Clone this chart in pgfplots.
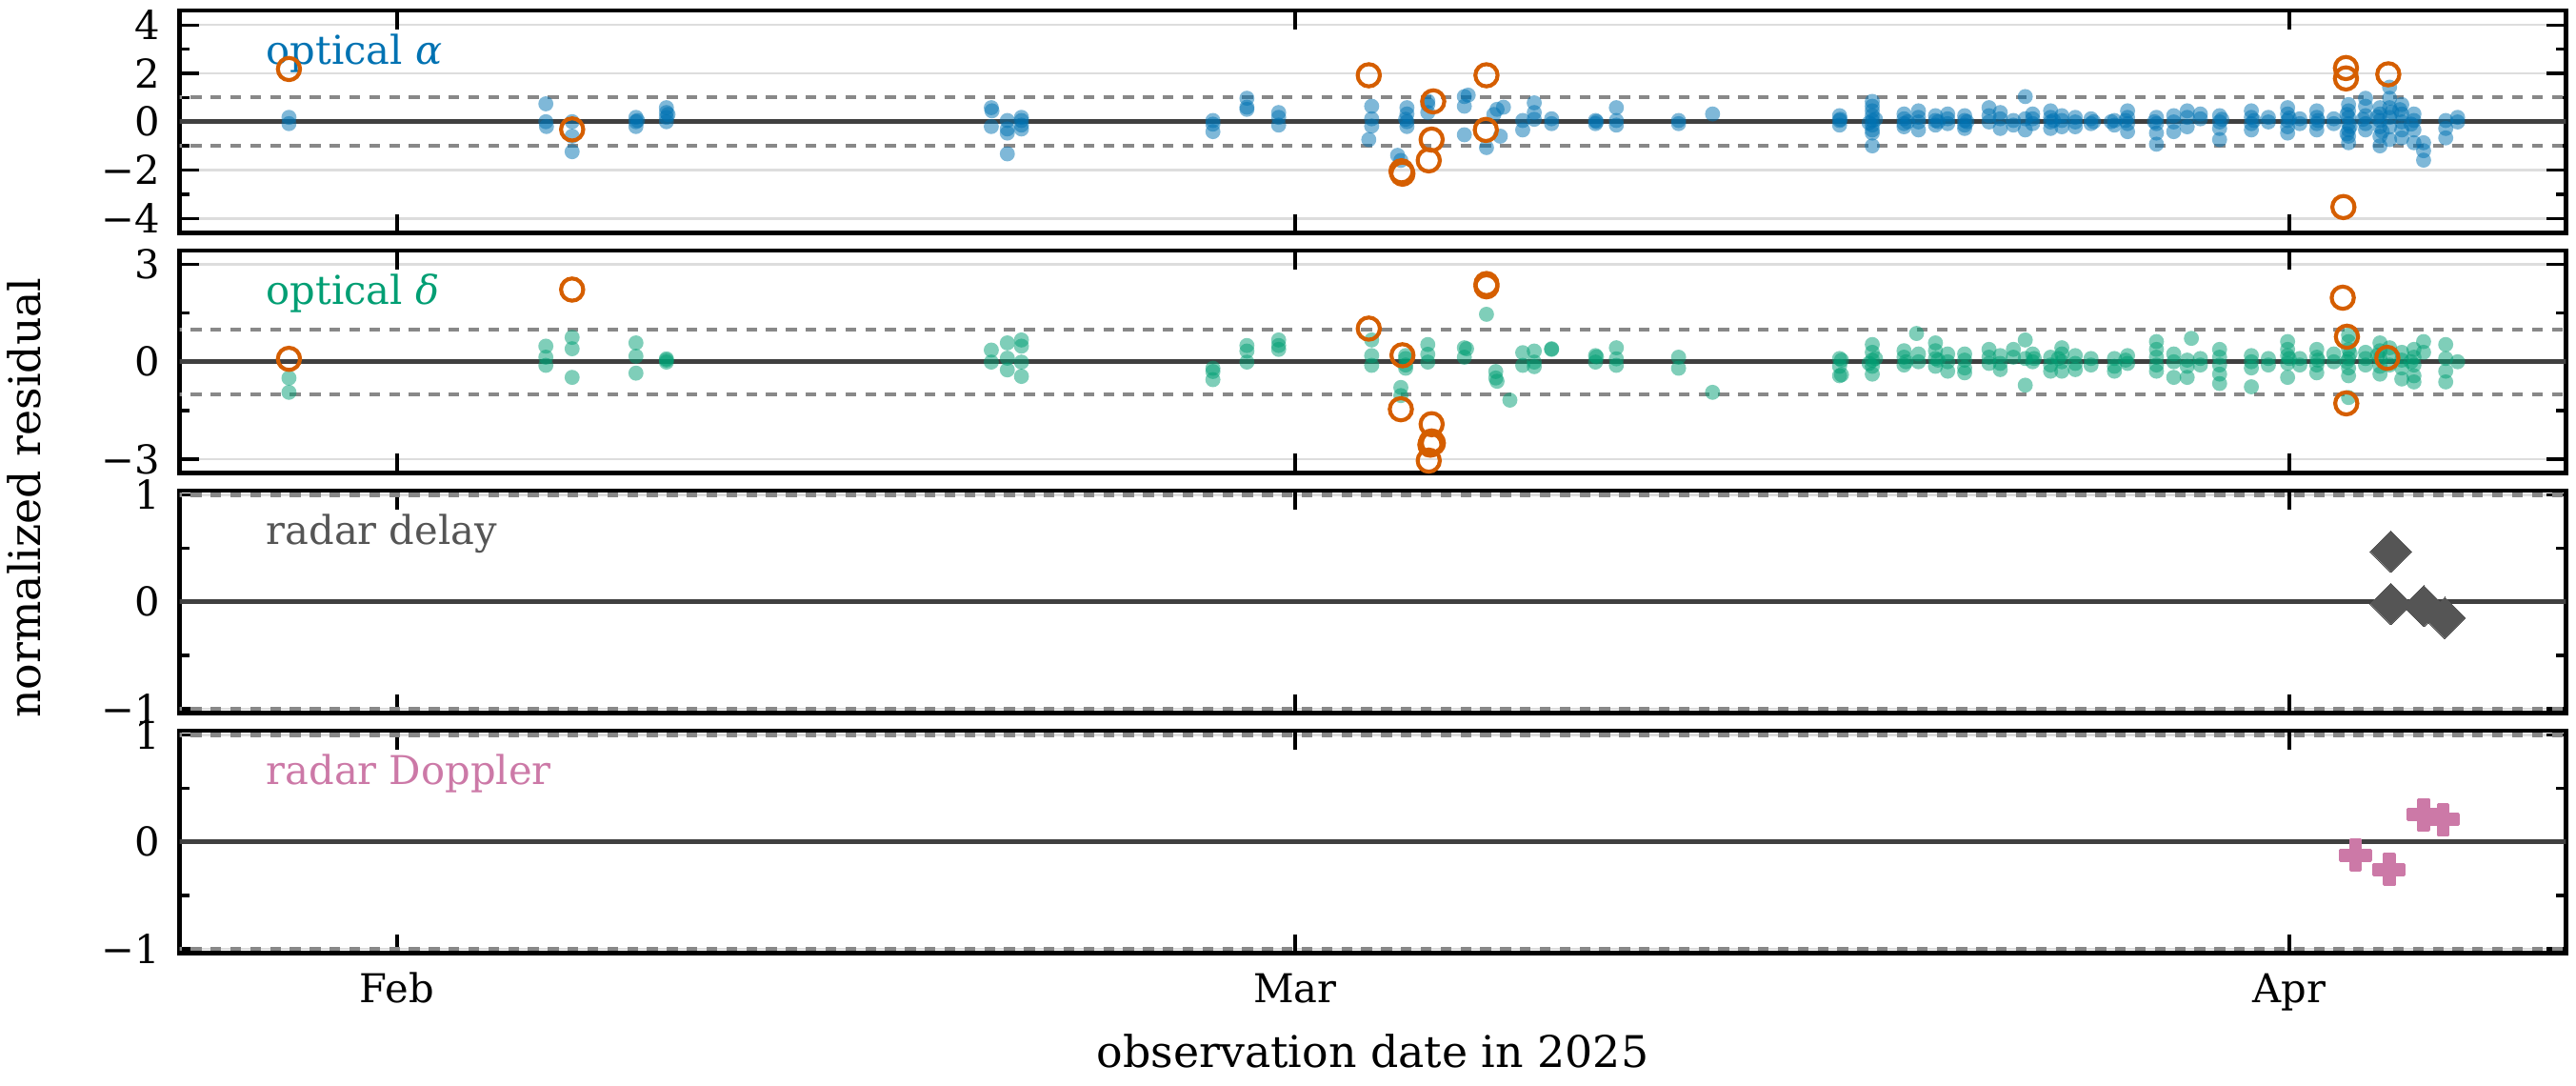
\documentclass[border=0pt]{standalone}
\usepackage{fontspec}
\setmainfont{DejaVu Serif}
\usepackage{pgfplots}
\pgfplotsset{compat=1.18}
\definecolor{cblue}{HTML}{0072B2}
\definecolor{cgreen}{HTML}{009E73}
\definecolor{corange}{HTML}{D55E00}
\definecolor{cpink}{HTML}{CC79A7}
\definecolor{cdgray}{HTML}{555555}
\definecolor{czero}{HTML}{404040}
\definecolor{cdash}{HTML}{888888}
\definecolor{cgrid}{HTML}{DDDDDD}
\pgfdeclareplotmark{fplus}{%
  \pgfpathmoveto{\pgfqpoint{-0.333\pgfplotmarksize}{-\pgfplotmarksize}}%
  \pgfpathlineto{\pgfqpoint{0.333\pgfplotmarksize}{-\pgfplotmarksize}}%
  \pgfpathlineto{\pgfqpoint{0.333\pgfplotmarksize}{-0.333\pgfplotmarksize}}%
  \pgfpathlineto{\pgfqpoint{\pgfplotmarksize}{-0.333\pgfplotmarksize}}%
  \pgfpathlineto{\pgfqpoint{\pgfplotmarksize}{0.333\pgfplotmarksize}}%
  \pgfpathlineto{\pgfqpoint{0.333\pgfplotmarksize}{0.333\pgfplotmarksize}}%
  \pgfpathlineto{\pgfqpoint{0.333\pgfplotmarksize}{\pgfplotmarksize}}%
  \pgfpathlineto{\pgfqpoint{-0.333\pgfplotmarksize}{\pgfplotmarksize}}%
  \pgfpathlineto{\pgfqpoint{-0.333\pgfplotmarksize}{0.333\pgfplotmarksize}}%
  \pgfpathlineto{\pgfqpoint{-\pgfplotmarksize}{0.333\pgfplotmarksize}}%
  \pgfpathlineto{\pgfqpoint{-\pgfplotmarksize}{-0.333\pgfplotmarksize}}%
  \pgfpathlineto{\pgfqpoint{-0.333\pgfplotmarksize}{-0.333\pgfplotmarksize}}%
  \pgfpathclose
  \pgfusepathqfillstroke}
\tikzset{plabel/.style={anchor=base west, inner sep=0pt, font=\fontsize{10}{12}\selectfont}}
\pgfplotsset{
  panel/.style={
    scale only axis, width=601.4pt, height=56.04pt,
    anchor=north west,
    xmin=25.22, xmax=99.63,
    xtick={32,60,91}, xticklabels={},
    tick align=inside, xtick pos=both, ytick pos=both,
    major tick length=4.8pt, minor tick length=2.4pt,
    tick style={black, line width=0.8pt},
    axis line style={line width=1.1pt},
    ymajorgrids, grid style={color=cgrid, line width=0.6pt},
    tick label style={font=\fontsize{10}{12}\selectfont},
    yticklabel style={xshift=-1.5pt},
  },
  bluept/.style={only marks, mark=*, mark size=1.9pt, mark options={fill=cblue, draw=cblue, line width=0pt, fill opacity=0.5, draw opacity=0}},
  greenpt/.style={only marks, mark=*, mark size=1.9pt, mark options={fill=cgreen, draw=cgreen, line width=0pt, fill opacity=0.5, draw opacity=0}},
  outl/.style={only marks, mark=o, mark size=2.8pt, mark options={draw=corange, line width=1pt}},
  zl/.style={line width=1.1pt, color=czero, forget plot},
  dl/.style={line width=1pt, color=cdash, dash pattern=on 2.7pt off 2.3pt, forget plot},
}
\begin{document}
\begin{tikzpicture}
\path[use as bounding box] (0pt,0pt) rectangle (649.2pt,-273.36pt);
% ---------------- optical alpha
\begin{axis}[panel, at={(45.26pt,-2.64pt)},
  ymin=-4.6, ymax=4.6, ytick={-4,-2,0,2,4}, yticklabels={−4,−2,0,2,4},
  minor ytick={-3,-1,1,3}]
\addplot[bluept] coordinates {
(28.63,0.18) (28.63,-0.08)
(36.64,0.74) (36.64,0.0) (36.66,-0.2)
(37.46,0.0) (37.46,-0.6) (37.46,-1.24)
(39.45,0.18) (39.45,0.0) (39.45,-0.2) (39.5,0.05)
(40.4,0.58) (40.4,0.38) (40.4,0.18) (40.4,0.0) (40.45,0.3)
(50.53,0.58) (50.53,-0.2) (50.55,0.45)
(51.03,0.05) (51.03,-0.47) (51.03,-1.33) (51.03,-0.3)
(51.47,0.18) (51.47,-0.14) (51.47,0.05) (51.47,-0.3)
(57.44,0.05) (57.44,-0.41) (57.44,-0.1)
(58.5,0.97) (58.5,0.51) (58.5,0.6)
(59.49,0.38) (59.49,-0.14) (59.49,0.18)
(62.39,0.64) (62.39,0.12) (62.39,-0.18) (62.3,-0.74)
(63.49,0.58) (63.49,0.32) (63.49,0.0) (63.49,-0.2) (63.45,0.1)
(63.2,-1.39) (63.3,-1.6)
(64.14,0.71) (64.14,0.38) (64.14,0.85)
(65.28,1.04) (65.28,0.64) (65.28,-0.54) (65.4,1.1)
(65.97,-1.07) (66.4,-0.6) (66.3,0.51) (66.5,0.6) (66.2,0.3)
(67.1,0.05) (67.1,-0.34)
(67.46,0.78) (67.46,0.38) (67.46,0.1)
(68.0,0.12) (68.0,-0.08)
(69.37,0.05) (69.37,-0.08) (69.4,0.0)
(70.02,0.58) (70.02,0.05) (70.02,-0.14)
(71.96,0.05) (71.96,-0.08)
(73.02,0.32)
(76.98,0.25) (76.98,0.05) (76.98,-0.14) (77.0,0.1)
(78.0,0.84) (78.0,0.64) (78.0,0.45) (78.0,0.25) (78.0,0.05) (78.0,-0.14) (78.0,-0.34) (78.0,-0.47) (78.0,-1.0) (78.1,0.1) (77.9,-0.05)
(78.99,0.32) (78.99,0.12) (78.99,-0.08) (78.99,-0.21) (79.1,0.0)
(79.44,0.45) (79.44,0.18) (79.44,-0.01) (79.44,-0.34)
(79.97,0.25) (79.97,0.05) (79.97,-0.14) (80.05,0.0)
(80.35,0.32) (80.35,0.12) (80.35,-0.08)
(80.88,0.25) (80.88,0.05) (80.88,-0.14) (80.88,-0.28) (80.95,0.0)
(81.64,0.58) (81.64,0.25) (81.64,-0.01)
(81.99,0.38) (81.99,0.12) (81.99,-0.28)
(82.4,0.05) (82.4,-0.14)
(82.77,1.04) (82.77,0.12) (82.77,-0.34)
(83.0,0.32) (83.0,0.12) (83.0,-0.08)
(83.56,0.45) (83.56,0.18) (83.56,-0.01) (83.56,-0.28) (83.65,0.05)
(83.91,0.25) (83.91,0.05) (83.91,-0.21)
(84.33,0.18) (84.33,-0.01) (84.33,-0.21)
(84.82,0.12) (84.82,-0.08) (84.9,0.0)
(85.55,0.05) (85.55,-0.14) (85.45,0.0)
(85.96,0.45) (85.96,0.18) (85.96,-0.08) (85.96,-0.41) (85.9,0.05)
(86.86,0.18) (86.86,-0.08) (86.86,-0.47) (86.86,-0.93) (86.8,0.0)
(87.4,0.25) (87.4,-0.01) (87.4,-0.41)
(87.82,0.45) (87.82,0.18) (87.82,-0.21)
(88.23,0.32) (88.23,0.12)
(88.83,0.25) (88.83,-0.01) (88.83,-0.28) (88.83,-0.74) (88.9,0.1)
(89.82,0.45) (89.82,0.18) (89.82,-0.08) (89.82,-0.34) (89.9,0.05)
(90.35,0.18) (90.35,-0.01)
(90.95,0.58) (90.95,0.32) (90.95,0.05) (90.95,-0.21) (90.95,-0.47) (91.0,0.15)
(91.33,0.12) (91.33,-0.08)
(91.86,0.45) (91.86,0.18) (91.86,-0.08) (91.86,-0.34) (91.9,0.05)
(92.39,0.12) (92.39,-0.08)
(92.85,0.71) (92.85,0.45) (92.85,0.18) (92.85,-0.08) (92.85,-0.34) (92.85,-0.6) (92.85,-0.87) (92.8,0.3) (92.9,-0.2) (92.8,-0.5)
(93.38,0.97) (93.38,0.64) (93.38,0.25) (93.38,-0.08) (93.38,-0.34) (93.3,0.1)
(93.83,0.58) (93.83,0.32) (93.83,0.05) (93.83,-0.21) (93.83,-0.6) (93.83,-1.0) (93.75,0.2) (93.9,-0.4)
(94.13,1.43) (94.13,0.97) (94.13,0.58) (94.13,0.18) (94.13,-0.21) (94.13,-0.74) (94.2,0.4)
(94.51,0.71) (94.51,0.32) (94.51,-0.01) (94.51,-0.34) (94.51,-0.67) (94.45,0.5)
(94.89,0.32) (94.89,0.05) (94.89,-0.34) (94.89,-0.87) (94.8,-0.1)
(95.19,-0.87) (95.19,-1.2) (95.19,-1.59)
(95.88,0.05) (95.88,-0.28) (95.88,-0.67)
(96.25,0.18) (96.25,-0.01)
};
\addplot[zl] coordinates {(20,0) (105,0)};
\addplot[dl] coordinates {(20,1) (105,1)};
\addplot[dl] coordinates {(20,-1) (105,-1)};
\addplot[outl] coordinates {
(28.63,2.18) (37.46,-0.32) (62.3,1.92) (63.32,-2.05) (63.35,-2.15)
(64.17,-1.6) (64.26,-0.74) (64.31,0.84) (65.97,1.92) (65.95,-0.34)
(92.77,2.22) (92.77,1.79) (94.09,1.96) (92.69,-3.53)
};
\node[plabel, text=cblue] at (rel axis cs:0.036,0.76) {optical {\itshape α}};
\end{axis}
% ---------------- optical delta
\begin{axis}[panel, at={(45.26pt,-63.12pt)},
  ymin=-3.42, ymax=3.42, ytick={-3,0,3}, yticklabels={−3,0,3},
  minor ytick={-1.5,1.5}]
\addplot[greenpt] coordinates {
(28.63,-0.5) (28.63,-0.94)
(36.64,0.48) (36.64,0.14) (36.64,-0.11)
(37.46,0.75) (37.46,0.4) (37.46,-0.48)
(39.45,0.58) (39.45,0.17) (39.45,-0.35)
(40.4,0.09) (40.4,-0.01) (40.4,0.05)
(50.53,0.36) (50.53,-0.01)
(51.03,0.58) (51.03,0.11) (51.03,-0.25)
(51.47,0.67) (51.47,0.48) (51.47,-0.01) (51.47,-0.45)
(57.44,-0.2) (57.44,-0.55) (57.44,-0.3)
(58.5,0.5) (58.5,0.33) (58.5,-0.01)
(59.49,0.67) (59.49,0.38) (59.49,0.5)
(62.39,0.67) (62.39,0.19) (62.39,-0.11)
(63.3,-0.79) (63.3,-1.04)
(63.45,0.19) (63.45,-0.2) (63.45,0.1) (63.45,-0.1)
(64.14,0.53) (64.14,0.23) (64.14,-0.01)
(65.28,0.43) (65.28,0.14) (65.35,0.4)
(65.97,1.46)
(66.26,-0.3) (66.26,-0.5) (66.3,-0.6)
(66.7,-1.18)
(67.1,0.28) (67.1,-0.11)
(67.46,0.33) (67.46,-0.01) (67.46,-0.15)
(68.0,0.38) (68.0,0.4)
(69.37,0.19) (69.37,-0.01) (69.4,0.15)
(70.02,0.43) (70.02,0.09) (70.02,-0.11)
(71.96,0.14) (71.96,-0.2)
(73.02,-0.94)
(77.04,0.05) (77.04,-0.4)
(76.98,0.1) (76.98,-0.14) (76.98,-0.43)
(78.0,0.53) (78.0,0.29) (78.0,0.05) (78.0,-0.14) (78.0,-0.38) (78.1,0.1) (77.9,-0.05)
(78.99,0.34) (78.99,0.14) (78.99,-0.1) (79.05,0.0)
(79.44,0.24) (79.44,0.0) (79.38,0.87)
(79.97,0.58) (79.97,0.34) (79.97,0.1) (79.97,-0.14) (80.05,0.05)
(80.35,0.24) (80.35,0.0) (80.35,-0.29)
(80.88,0.24) (80.88,0.05) (80.88,-0.19) (80.88,-0.34)
(81.64,0.38) (81.64,0.14) (81.64,-0.05)
(81.99,0.19) (81.99,-0.05) (81.99,-0.24)
(82.4,0.38) (82.4,0.14)
(82.77,0.67) (82.77,0.1) (82.77,-0.72)
(83.0,0.24) (83.0,0.0) (83.05,0.1)
(83.56,0.14) (83.56,-0.1) (83.56,-0.29)
(83.91,0.43) (83.91,0.24) (83.91,0.0) (83.91,-0.29) (83.8,0.1)
(84.33,0.19) (84.33,-0.05) (84.33,-0.24)
(84.82,0.1) (84.82,-0.1)
(85.55,0.1) (85.55,-0.14) (85.55,-0.29)
(85.96,0.19) (85.96,-0.05) (85.9,0.05)
(86.86,0.62) (86.86,0.38) (86.86,0.14) (86.86,-0.1) (86.86,-0.29)
(87.4,0.24) (87.4,0.0) (87.4,-0.48)
(87.82,0.05) (87.82,-0.14) (87.82,-0.48) (87.95,0.72)
(88.23,0.1) (88.23,-0.1)
(88.83,0.38) (88.83,0.14) (88.83,-0.1) (88.83,-0.38) (88.83,-0.67)
(89.82,0.19) (89.82,0.0) (89.82,-0.19) (89.82,-0.77)
(90.35,0.1) (90.35,-0.1)
(90.95,0.62) (90.95,0.38) (90.95,0.19) (90.95,-0.05) (90.95,-0.48) (91.0,0.1)
(91.33,0.1) (91.33,-0.1)
(91.86,0.38) (91.86,0.14) (91.86,-0.1) (91.86,-0.34) (91.9,0.05)
(92.39,0.24) (92.39,0.0)
(92.85,0.82) (92.85,0.62) (92.85,0.38) (92.85,0.1) (92.85,-0.19) (92.85,-0.43) (92.85,-1.1) (92.8,0.0) (92.9,0.25)
(93.38,0.29) (93.38,0.1) (93.38,-0.1)
(93.83,0.58) (93.83,0.34) (93.83,0.1) (93.83,-0.14) (93.83,-0.38) (93.75,0.2)
(94.13,0.43) (94.13,0.19) (94.13,-0.1)
(94.51,0.29) (94.51,0.05) (94.51,-0.19) (94.51,-0.53)
(94.89,0.38) (94.89,0.14) (94.89,-0.1) (94.89,-0.43) (94.89,-0.62) (94.8,0.0)
(95.19,0.62) (95.19,0.29)
(95.88,0.53) (95.88,0.1) (95.88,-0.29) (95.88,-0.62)
(96.25,0.0)
};
\addplot[zl] coordinates {(20,0) (105,0)};
\addplot[dl] coordinates {(20,1) (105,1)};
\addplot[dl] coordinates {(20,-1) (105,-1)};
\addplot[outl] coordinates {
(28.63,0.09) (37.46,2.22) (62.3,1.02) (63.35,0.2) (63.3,-1.46)
(64.26,-1.92) (64.26,-2.45) (64.22,-2.55) (64.3,-2.5) (64.17,-3.04)
(65.97,2.39) (65.97,2.32) (92.67,1.97) (92.8,0.77) (94.06,0.12) (92.78,-1.28)
};
\node[plabel, text=cgreen] at (rel axis cs:0.036,0.76) {optical {\itshape δ}};
\end{axis}
% ---------------- radar delay
\begin{axis}[panel, at={(45.26pt,-123.6pt)},
  ymin=-1.04, ymax=1.04, ytick={-1,0,1}, yticklabels={−1,0,1},
  minor ytick={-0.5,0.5}]
\addplot[zl] coordinates {(20,0) (105,0)};
\addplot[dl] coordinates {(20,1) (105,1)};
\addplot[dl] coordinates {(20,-1) (105,-1)};
\addplot[only marks, mark=square*, mark size=3.68pt, mark options={rotate=45, fill=cdgray, draw=cdgray, line width=0pt}] coordinates {
(94.17,0.47) (94.17,-0.02) (95.2,-0.04) (95.85,-0.15)
};
\node[plabel, text=cdgray] at (rel axis cs:0.036,0.76) {radar delay};
\end{axis}
% ---------------- radar Doppler
\begin{axis}[panel, at={(45.26pt,-184.08pt)},
  ymin=-1.04, ymax=1.04, ytick={-1,0,1}, yticklabels={−1,0,1},
  minor ytick={-0.5,0.5},
  xticklabels={Feb,Mar,Apr},
  xticklabel style={anchor=base, yshift=-12.4pt}]
\addplot[zl] coordinates {(20,0) (105,0)};
\addplot[dl] coordinates {(20,1) (105,1)};
\addplot[dl] coordinates {(20,-1) (105,-1)};
\addplot[only marks, mark=fplus, mark size=3.8pt, mark options={fill=cpink, draw=cpink, line width=0.8pt, line join=round}] coordinates {
(93.07,-0.125) (94.11,-0.26) (95.18,0.256) (95.8,0.21)
};
\node[plabel, text=cpink] at (rel axis cs:0.036,0.76) {radar Doppler};
\end{axis}
\node[rotate=90, anchor=base, font=\fontsize{11}{13}\selectfont] at (10.2pt,-125.4pt) {normalized residual};
\node[anchor=base, font=\fontsize{11}{13}\selectfont] at (345.96pt,-268.8pt) {observation date in 2025};
\end{tikzpicture}
\end{document}
